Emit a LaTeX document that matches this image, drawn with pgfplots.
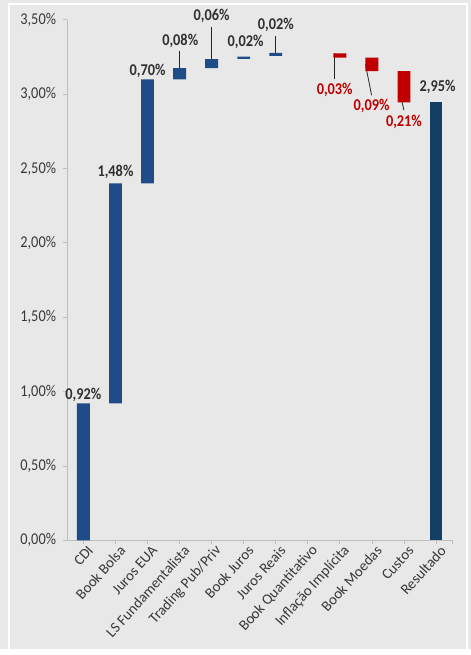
\documentclass[border=0pt]{standalone}
\usepackage{pgfplots}
\pgfplotsset{compat=1.18}
\usepackage{fontspec}
\setmainfont{Carlito}
\definecolor{bg}{HTML}{E8E8E8}
\definecolor{barblue}{HTML}{1F4C88}
\definecolor{resblue}{HTML}{133F65}
\definecolor{barred}{HTML}{C00000}
\definecolor{txt}{HTML}{383838}
\definecolor{lbltxt}{HTML}{303030}
\definecolor{axisgray}{HTML}{BFBFBF}
\newcommand{\st}[1]{\scalebox{1}[1.15]{#1}}
\pgfplotstableread{
x base blue red res
0 0 0.92 0 0
1 0.92 1.48 0 0
2 2.40 0.70 0 0
3 3.10 0.075 0 0
4 3.175 0.06 0 0
5 3.237 0.015 0 0
6 3.257 0.02 0 0
7 3.277 0 0 0
8 3.245 0 0.03 0
9 3.155 0 0.09 0
10 2.945 0 0.21 0
11 0 0 0 2.95
}\wf
\begin{document}
\begin{tikzpicture}
\fill[bg] (0,0) rectangle (475bp,655bp);
\draw[white, line width=1.5bp] (9bp,-5bp) -- (9bp,651bp) -- (471bp,651bp) -- (471bp,-5bp);
\useasboundingbox (0,0) rectangle (475bp,655bp);
\begin{axis}[
  at={(68bp,110bp)}, anchor=south west,
  scale only axis, width=388bp, height=525bp,
  xmin=-0.5, xmax=11.5, ymin=0, ymax=3.5,
  ybar stacked, bar width=13bp, clip=false,
  axis x line*=bottom, axis y line*=left,
  axis line style={axisgray, line width=0.8bp},
  tick style={axisgray, line width=0.8bp},
  tick align=outside, major tick length=4bp,
  xtick={0,...,11},
  extra x ticks={11.5}, extra x tick labels={},
  xticklabels={CDI,Book Bolsa,Juros EUA,LS Fundamentalista,Trading Pub/Priv,Book Juros,Juros Reais,Book Quantitativo,Inflação Implícita,Book Moedas,Custos,Resultado},
  x tick label style={rotate=48, anchor=east, font=\fontsize{15}{17}\selectfont, text=txt, inner sep=1bp, yshift=-8bp, xshift=3bp},
  ytick={0,0.5,...,3.5},
  /pgf/number format/assume math mode=true,
  yticklabel={\st{\pgfmathprintnumber[fixed,fixed zerofill,precision=2,use comma]{\tick}\%}},
  y tick label style={font=\fontsize{14.5}{17}\selectfont, text=txt, xshift=-4bp},
]
\addplot[draw=none, fill=none] table[x=x, y=base] {\wf};
\addplot[draw=none, fill=barblue] table[x=x, y=blue] {\wf};
\addplot[draw=none, fill=barred] table[x=x, y=red] {\wf};
\addplot[draw=none, fill=resblue] table[x=x, y=res] {\wf};

\tikzset{lbl/.style={font=\bfseries\fontsize{14.5}{17}\selectfont, text=lbltxt, inner sep=0pt},
         rlbl/.style={font=\bfseries\fontsize{14.5}{17}\selectfont, text=barred, inner sep=0pt},
         ldr/.style={draw=black!85, line width=0.8bp}}
\node[lbl] at (axis cs:0,0.98) {\st{0,92\%}};
\node[lbl] at (axis cs:1,2.48) {\st{1,48\%}};
\node[lbl] at (axis cs:2,3.153) {\st{0,70\%}};
\draw[ldr] (axis cs:3,3.175) -- (axis cs:3,3.293);
\node[lbl] at (axis cs:3.02,3.36) {\st{0,08\%}};
\draw[ldr] (axis cs:4,3.235) -- (axis cs:4,3.453);
\node[lbl] at (axis cs:4,3.527) {\st{0,06\%}};
\node[lbl] at (axis cs:5.06,3.353) {\st{0,02\%}};
\draw[ldr] (axis cs:6,3.277) -- (axis cs:6,3.393);
\node[lbl] at (axis cs:6,3.467) {\st{0,02\%}};
\draw[ldr] (axis cs:7.84,3.275) -- (axis cs:7.84,3.10);
\node[rlbl] at (axis cs:7.84,3.027) {\st{0,03\%}};
\draw[ldr] (axis cs:8.80,3.20) -- (axis cs:8.99,2.993);
\node[rlbl] at (axis cs:8.99,2.92) {\st{0,09\%}};
\draw[ldr] (axis cs:9.82,3.053) -- (axis cs:10.0,2.893);
\node[rlbl] at (axis cs:10.0,2.813) {\st{0,21\%}};
\node[lbl] at (axis cs:11.05,3.047) {\st{2,95\%}};
\end{axis}
\end{tikzpicture}
\end{document}
